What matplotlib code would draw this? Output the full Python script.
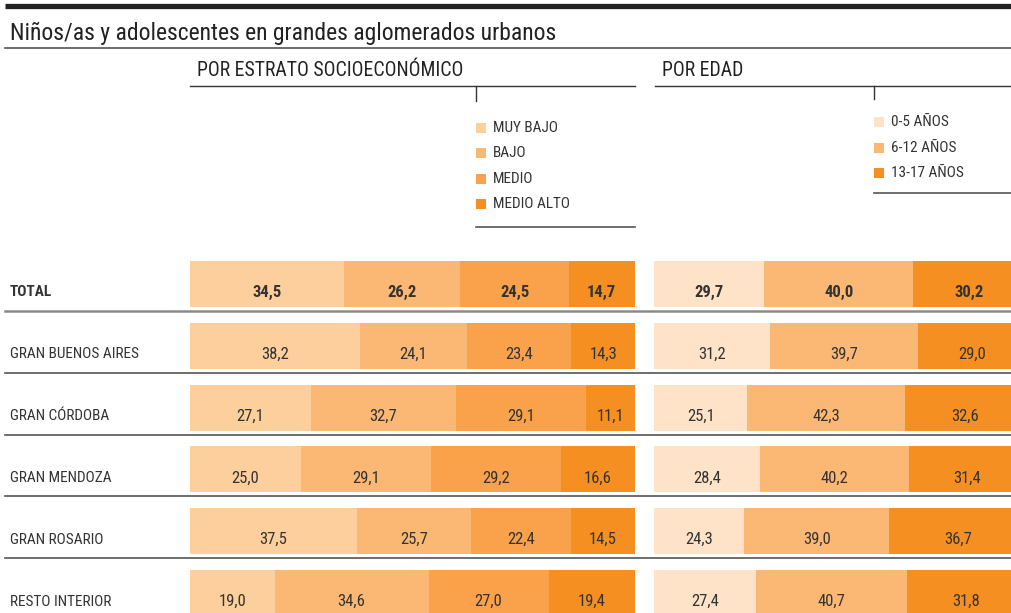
import matplotlib
matplotlib.use('Agg')
import matplotlib.pyplot as plt
from matplotlib.patches import Rectangle

plt.rcParams['font.family'] = ['Roboto Condensed', 'Archivo Narrow', 'DejaVu Sans']

# Data
#------------------------------------------------------------------------------
regions = ['TOTAL', 'GRAN BUENOS AIRES', 'GRAN CÓRDOBA', 'GRAN MENDOZA',
           'GRAN ROSARIO', 'RESTO INTERIOR']
estrato_labels = ['MUY BAJO', 'BAJO', 'MEDIO', 'MEDIO ALTO']
muy_bajo   = [34.5, 38.2, 27.1, 25.0, 37.5, 19.0]
bajo       = [26.2, 24.1, 32.7, 29.1, 25.7, 34.6]
medio      = [24.5, 23.4, 29.1, 29.2, 22.4, 27.0]
medio_alto = [14.7, 14.3, 11.1, 16.6, 14.5, 19.4]

edad_labels = ['0-5 AÑOS', '6-12 AÑOS', '13-17 AÑOS']
edad_0_5   = [29.7, 31.2, 25.1, 28.4, 24.3, 27.4]
edad_6_12  = [40.0, 39.7, 42.3, 40.2, 39.0, 40.7]
edad_13_17 = [30.2, 29.0, 32.6, 31.4, 36.7, 31.8]
#------------------------------------------------------------------------------

c_estrato = ['#fdcf9c', '#fbb875', '#f9a24b', '#f68f22']
c_edad = ['#fee3c8', '#fbb875', '#f68f22']
txt = '#333333'

W, H = 1011, 613
fig = plt.figure(figsize=(W / 100, H / 100), dpi=100)

# background axes in pixel coordinates for lines and labels
bg = fig.add_axes([0, 0, 1, 1])
bg.set_xlim(0, W)
bg.set_ylim(H, 0)
bg.axis('off')

row0, step, bar_h = 284, 61.8, 46
ys = [row0 + step * i for i in range(len(regions))]


def stacked(ax, series, colors, bold):
    lefts = [0] * len(regions)
    for vals, col in zip(series, colors):
        ax.barh(ys, vals, left=lefts, height=bar_h, color=col, linewidth=0)
        for i, (l, v) in enumerate(zip(lefts, vals)):
            ax.text(l + v / 2, ys[i] + 8.5, f'{v:.1f}'.replace('.', ','),
                    ha='center', va='center', fontsize=12, color=txt,
                    fontweight='bold' if (bold and i == 0) else 'normal')
        lefts = [l + v for l, v in zip(lefts, vals)]


ax_l = fig.add_axes([190 / W, 0, 445 / W, 1])
ax_r = fig.add_axes([654 / W, 0, 372 / W, 1])
for ax in (ax_l, ax_r):
    ax.set_xlim(0, 100)
    ax.set_ylim(H, 0)
    ax.axis('off')
stacked(ax_l, [muy_bajo, bajo, medio, medio_alto], c_estrato, True)
stacked(ax_r, [edad_0_5, edad_6_12, edad_13_17], c_edad, True)

# row labels and separators
for i, name in enumerate(regions):
    bg.text(10, ys[i] + 8.5, name, ha='left', va='center', fontsize=11,
            color=txt, fontweight='bold' if i == 0 else 'normal')
    if i < len(regions) - 1:
        yl = ys[i] + 27
        if i == 0:
            bg.plot([5, W], [yl, yl], color='#8a8a8a', lw=1.8)
        else:
            bg.plot([5, W], [yl, yl], color='#555555', lw=1.2)

# title block
bg.plot([5, W], [5.5, 5.5], color='#222222', lw=3.8, solid_capstyle='butt')
bg.text(10, 33.5, 'Niños/as y adolescentes en grandes aglomerados urbanos',
        ha='left', va='center', fontsize=17, color='#222222')
bg.plot([5, W], [48, 48], color='#555555', lw=1.2)

# section headers
bg.text(197, 71, 'POR ESTRATO SOCIOECONÓMICO', ha='left', va='center',
        fontsize=14.2, color='#222222')
bg.plot([190, 635], [86, 86], color='#333333', lw=1)
bg.text(662, 71, 'POR EDAD', ha='left', va='center', fontsize=14.2,
        color='#222222')
bg.plot([655, W], [86, 86], color='#333333', lw=1)

# legends
bg.plot([476, 476], [86, 101], color='#333333', lw=1)
for k, (lab, col) in enumerate(zip(estrato_labels, c_estrato)):
    yy = 128 + 25.3 * k
    bg.add_patch(Rectangle((476, yy - 5), 10, 10, color=col, lw=0))
    bg.text(493, yy, lab, ha='left', va='center', fontsize=11, color=txt)
bg.plot([476, 635], [227, 227], color='#555555', lw=1.2)

bg.plot([874, 874], [86, 99], color='#333333', lw=1)
for k, (lab, col) in enumerate(zip(edad_labels, c_edad)):
    yy = 122 + 25.5 * k
    bg.add_patch(Rectangle((874, yy - 5), 10, 10, color=col, lw=0))
    bg.text(891, yy, lab, ha='left', va='center', fontsize=11, color=txt)
bg.plot([874, W], [193, 193], color='#555555', lw=1.2)

fig.savefig('out.png', dpi=100)
